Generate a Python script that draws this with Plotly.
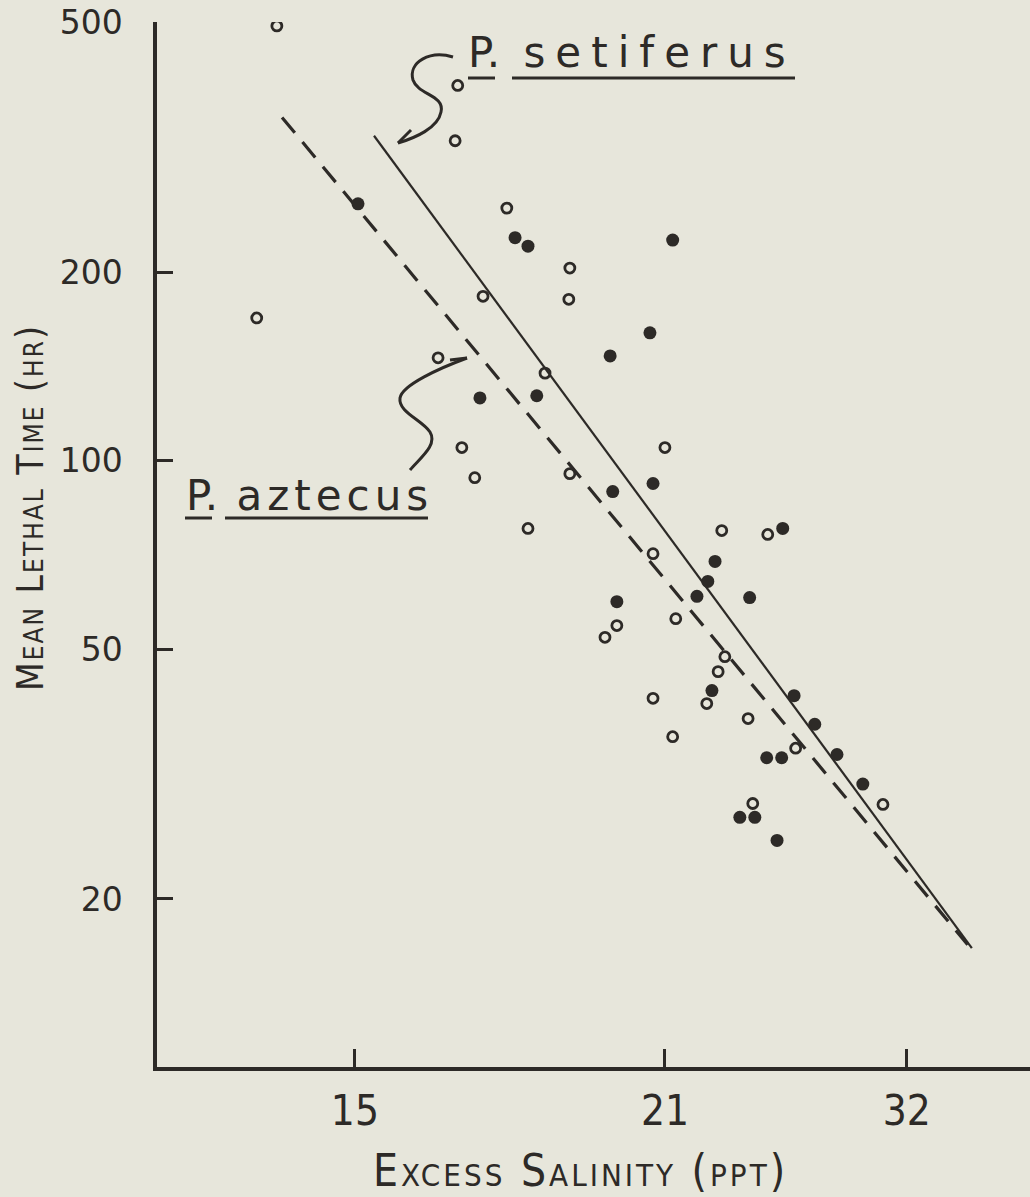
import plotly.graph_objects as go

# ---------------- data ----------------
# open-circle observations: excess salinity (ppt), mean lethal time (hr)
open_x = [13.49, 16.99, 16.94, 17.94, 19.16, 19.14, 17.48, 13.10, 16.61, 18.68,
          17.07, 21.00, 17.32, 19.16, 18.35, 20.77, 22.10, 22.99, 21.21, 20.07,
          19.84, 22.16, 22.03, 21.81, 20.77, 22.61, 21.15, 23.53, 25.22, 22.70]
open_y = [494, 397, 324, 253, 203, 181, 183, 169, 146, 138,
          105, 105, 94.0, 95.4, 78.0, 71.1, 77.4, 76.3, 56.0, 54.6,
          52.3, 48.7, 46.1, 41.0, 41.8, 38.8, 36.3, 34.8, 28.3, 28.4]

# filled-circle observations
filled_x = [15.06, 18.10, 18.35, 21.15, 20.71, 19.94, 17.42, 18.52, 19.99, 20.77,
            23.28, 21.97, 21.83, 21.62, 22.64, 20.07, 21.91, 23.50, 23.90, 24.33,
            22.97, 23.26, 24.83, 22.45, 22.74, 23.17]
filled_y = [257, 227, 220, 225, 160, 147, 126, 127, 89.3, 92.0,
            78.0, 69.1, 64.2, 60.8, 60.5, 59.6, 43.0, 42.2, 38.0, 34.0,
            33.6, 33.6, 30.5, 27.0, 27.0, 24.8]

# fitted lines (end points)
setiferus_fit_x = [15.37, 26.94]
setiferus_fit_y = [330, 16.7]
aztecus_fit_x = [13.59, 26.86]
aztecus_fit_y = [353, 16.9]

# axis ticks
x_tick_vals = [15, 21, 25.68]
x_tick_text = ["15", "21", "32"]
y_tick_vals = [20, 50, 100, 200, 500]
y_tick_text = ["20", "50", "100", "200", "500"]

# ---------------- styling ----------------
INK = "#2d2a27"
PAPER = "#e7e6db"
W, H = 1030, 1197
ML, MR, MT, MB = 157, 0, 22, 130
PW, PH = W - ML - MR, H - MT - MB


def px(xp):
    return (xp - ML) / PW


def py(yp):
    return (H - MB - yp) / PH


def path_from(points):
    """points: list of (cmd, [(x,y),...]) in page pixels -> paper path"""
    parts = []
    for cmd, pts in points:
        coords = " ".join(f"{px(a):.5f},{py(b):.5f}" for a, b in pts)
        parts.append(f"{cmd} {coords}")
    return " ".join(parts)


fig = go.Figure()

fig.add_trace(go.Scatter(
    x=setiferus_fit_x, y=setiferus_fit_y, mode="lines",
    line=dict(color=INK, width=2.2), name="P. setiferus", hoverinfo="skip"))
fig.add_trace(go.Scatter(
    x=aztecus_fit_x, y=aztecus_fit_y, mode="lines",
    line=dict(color=INK, width=3.2, dash="20px,12px"), name="P. aztecus",
    hoverinfo="skip"))
fig.add_trace(go.Scatter(
    x=open_x, y=open_y, mode="markers", name="open",
    marker=dict(symbol="circle-open", size=10, color=INK, line=dict(width=2.8, color=INK))))
fig.add_trace(go.Scatter(
    x=filled_x, y=filled_y, mode="markers", name="filled",
    marker=dict(symbol="circle", size=13, color=INK, line=dict(width=0))))

shapes = []
# curly arrow to P. setiferus line
shapes.append(dict(type="path", xref="paper", yref="paper",
                   path=path_from([("M", [(453, 57)]),
                                   ("C", [(430, 50), (408, 62), (413, 80)]),
                                   ("C", [(418, 95), (445, 95), (441, 112)]),
                                   ("C", [(438, 128), (415, 138), (398, 143)])]),
                   line=dict(color=INK, width=3)))
shapes.append(dict(type="path", xref="paper", yref="paper",
                   path=path_from([("M", [(411, 130)]), ("L", [(398, 143), (416, 141)])]),
                   line=dict(color=INK, width=3)))
# curly arrow to P. aztecus line
shapes.append(dict(type="path", xref="paper", yref="paper",
                   path=path_from([("M", [(410, 470)]),
                                   ("C", [(420, 458), (438, 445), (430, 432)]),
                                   ("C", [(422, 420), (398, 412), (400, 398)]),
                                   ("C", [(402, 385), (440, 368), (467, 358)])]),
                   line=dict(color=INK, width=3)))
shapes.append(dict(type="path", xref="paper", yref="paper",
                   path=path_from([("M", [(450, 360)]), ("L", [(467, 358), (462, 373)])]),
                   line=dict(color=INK, width=3)))
# underlines of the species names
for x0, x1, yy in [(468, 495, 78), (512, 795, 78), (185, 212, 518), (225, 428, 518)]:
    shapes.append(dict(type="line", xref="paper", yref="paper",
                       x0=px(x0), x1=px(x1), y0=py(yy), y1=py(yy),
                       line=dict(color=INK, width=3)))

label_font = dict(family="DejaVu Sans", size=42, color=INK)
annotations = [
    dict(xref="paper", yref="paper", x=px(466), y=py(52), xanchor="left", yanchor="middle",
         text="P.<span style='letter-spacing:10px'> setiferus</span>", showarrow=False,
         font=label_font),
    dict(xref="paper", yref="paper", x=px(184), y=py(496), xanchor="left", yanchor="middle",
         text="P.<span style='letter-spacing:5px'> aztecus</span>", showarrow=False,
         font=label_font),
    dict(xref="paper", yref="paper", x=px(31), y=py(508), xanchor="center", yanchor="middle",
         textangle=-90,
         text="<span style='letter-spacing:2px'>Mean Lethal Time (hr)</span>",
         showarrow=False,
         font=dict(family="DejaVu Sans Condensed", size=37, color=INK, variant="small-caps")),
    dict(xref="paper", yref="paper", x=px(580), y=py(1170), xanchor="center", yanchor="middle",
         text="<span style='letter-spacing:3px'>Excess Salinity (ppt)</span>",
         showarrow=False,
         font=dict(family="DejaVu Sans Condensed", size=44, color=INK, variant="small-caps")),
]

fig.update_layout(
    width=W, height=H,
    margin=dict(l=ML, r=MR, t=MT, b=MB, pad=0),
    paper_bgcolor=PAPER, plot_bgcolor=PAPER,
    showlegend=False,
    shapes=shapes,
    annotations=annotations,
)
fig.update_xaxes(
    range=[11.17, 11.17 + PW / 51.67],
    tickvals=x_tick_vals, ticktext=x_tick_text,
    ticks="inside", ticklen=18, tickwidth=3, tickcolor=INK,
    showline=True, linewidth=3.5, linecolor=INK,
    showgrid=False, zeroline=False,
    ticklabelstandoff=4,
    tickfont=dict(family="DejaVu Sans Condensed", size=42, color=INK),
)
fig.update_yaxes(
    type="log", range=[1.033, 2.7],
    tickvals=y_tick_vals, ticktext=y_tick_text,
    ticks="inside", ticklen=16, tickwidth=3, tickcolor=INK,
    showline=True, linewidth=3.5, linecolor=INK,
    showgrid=False, zeroline=False,
    ticklabelstandoff=24,
    tickfont=dict(family="DejaVu Sans", size=33, color=INK),
)

fig.write_html("out.html")
